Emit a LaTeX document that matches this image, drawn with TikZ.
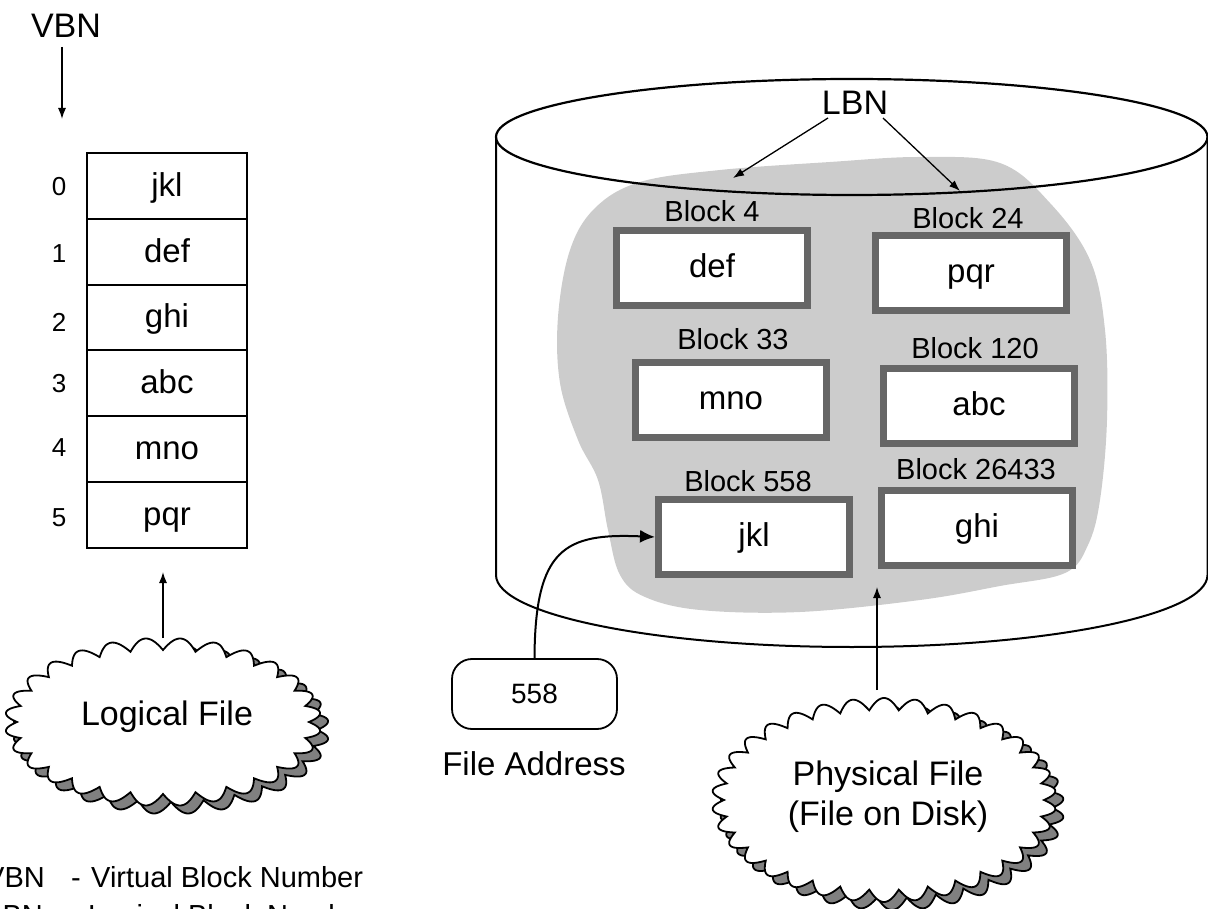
\documentclass[tikz,border=0pt]{standalone}
\usepackage{fontspec}
\setmainfont{Liberation Sans}
\usetikzlibrary{arrows.meta}
\definecolor{blobgray}{HTML}{CCCCCC}
\definecolor{blkgray}{HTML}{666666}
\definecolor{shadowgray}{HTML}{808080}
\newcommand\fsz[2]{\fontsize{#1}{#2}\selectfont}
\begin{document}
\begin{tikzpicture}[x=1pt,y=-1pt,
  tabcell/.style={draw, line width=2pt, minimum width=160pt, minimum height=65.8pt, inner sep=0pt,
                  text height=26pt, text depth=5pt, font=\fsz{33}{40}},
  idx/.style={inner sep=0pt, font=\fsz{26}{30}},
  blk/.style={draw=blkgray, line width=7pt, fill=white, minimum width=191pt, minimum height=75pt, inner sep=0pt,
              text height=25pt, text depth=6pt, font=\fsz{33}{40}},
  blklabel/.style={inner sep=0pt, font=\fsz{29}{34}},
  bigtext/.style={inner sep=0pt, font=\fsz{34}{40}},
  legend/.style={inner sep=0pt, font=\fsz{29}{34}},
  arr/.style={line width=1.3pt, -{Latex[length=11pt,width=8pt]}},
  cloudline/.style={draw=black, line width=1.8pt}]
\useasboundingbox (0,0) rectangle (1208,909);
\clip (0,0) rectangle (1208,909);

% ---------- left: logical file table ----------
\node[bigtext] (vbn) at (66,26) {VBN};
\coordinate (vbnS) at (62,47);
\coordinate (vbnT) at (62,119);
\draw[arr] (vbnS) -- (vbnT);

\node[tabcell] (r0) at (167,185.9) {jkl};
\node[tabcell] (r1) at (167,251.7) {def};
\node[tabcell] (r2) at (167,317.5) {ghi};
\node[tabcell] (r3) at (167,383.3) {abc};
\node[tabcell] (r4) at (167,449.1) {mno};
\node[tabcell] (r5) at (167,514.9) {pqr};
\node[idx] (i0) at (59,187) {0};
\node[idx] (i1) at (59,254) {1};
\node[idx] (i2) at (59,322) {2};
\node[idx] (i3) at (59,384) {3};
\node[idx] (i4) at (59,448) {4};
\node[idx] (i5) at (59,518) {5};

% logical file cloud
\filldraw[fill=shadowgray, cloudline, shift={(8,8)}]
  plot[domain=0:360, samples=561, variable=\t]
  ({163+(146+12*abs(sin(14*\t)))*cos(\t)}, {722+(72+12*abs(sin(14*\t)))*sin(\t)}) -- cycle;
\filldraw[fill=white, cloudline]
  plot[domain=0:360, samples=561, variable=\t]
  ({163+(146+12*abs(sin(14*\t)))*cos(\t)}, {722+(72+12*abs(sin(14*\t)))*sin(\t)}) -- cycle;
\node[bigtext] (lf) at (167,717) {Logical File};
\coordinate (lfTop) at (163,638);
\coordinate (lfTip) at (163,572);
\draw[arr] (lfTop) -- (lfTip);

% legend
\node[legend, anchor=base east] (v1) at (45,887) {VBN};
\node[legend, anchor=base] (d1) at (76,887) {-};
\node[legend, anchor=base west] (t1) at (91,887) {Virtual Block Number};
\node[legend, anchor=base east] (v2) at (43,925) {LBN};
\node[legend, anchor=base] (d2) at (70,925) {-};
\node[legend, anchor=base west] (t2) at (88,925) {Logical Block Number};

% ---------- right: disk ----------
\fill[blobgray] plot[smooth cycle, tension=0.6] coordinates {
  (595,208) (640,182) (720,170) (830,162) (920,157) (1000,163) (1050,203)
  (1090,260) (1105,330) (1107,420) (1100,500) (1088,545) (1065,573)
  (1000,586) (920,600) (800,612) (700,610) (645,597) (620,575) (608,530)
  (598,480) (578,440) (560,383) (558,317) (570,250)};

\draw[line width=2.2pt] (851.75,137) ellipse [x radius=355.75pt, y radius=58pt];
\draw[line width=2pt] (496,137) -- (496,575)
  arc[start angle=180, end angle=360, x radius=355.75pt, y radius=72pt] -- (1207.5,137);

\node[bigtext] (lbn) at (855,103) {LBN};
\coordinate (lbnA) at (828,118);
\coordinate (lbnAt) at (733,178);
\coordinate (lbnB) at (883,118);
\coordinate (lbnBt) at (960,191);
\draw[arr] (lbnA) -- (lbnAt);
\draw[arr] (lbnB) -- (lbnBt);

\node[blklabel] (l4) at (712,211) {Block 4};
\node[blk] (b4) at (712,268) {def};
\node[blklabel] (l24) at (968,218) {Block 24};
\node[blk] (b24) at (971,273) {pqr};
\node[blklabel] (l33) at (733,339) {Block 33};
\node[blk] (b33) at (731,400) {mno};
\node[blklabel] (l120) at (975,348) {Block 120};
\node[blk] (b120) at (979,406) {abc};
\node[blklabel] (l558) at (748,481) {Block 558};
\node[blk] (b558) at (754,537) {jkl};
\node[blklabel] (l26433) at (976,469) {Block 26433};
\node[blk] (b26433) at (977,528) {ghi};

% file address
\node[draw, line width=1.8pt, rounded corners=20pt, minimum width=165pt, minimum height=70pt,
      inner sep=0pt, font=\fsz{28}{32}] (addr) at (534.5,694) {558};
\node[bigtext, font=\fsz{33}{40}] (fa) at (534,764) {File Address};
\draw[line width=2pt, -{Latex[length=15pt,width=13pt]}]
  (addr.north) .. controls (535,548) and (565,533) .. (b558.west);

% physical file cloud
\filldraw[fill=shadowgray, cloudline, shift={(8,8)}]
  plot[domain=0:360, samples=681, variable=\t]
  ({884+(160+12*abs(sin(17*\t)))*cos(\t)}, {800+(90+12*abs(sin(17*\t)))*sin(\t)}) -- cycle;
\filldraw[fill=white, cloudline]
  plot[domain=0:360, samples=681, variable=\t]
  ({884+(160+12*abs(sin(17*\t)))*cos(\t)}, {800+(90+12*abs(sin(17*\t)))*sin(\t)}) -- cycle;
\node[bigtext, align=center] (pf) at (888,797) {Physical File\\(File on Disk)};
\coordinate (pfTop) at (877,690);
\coordinate (pfTip) at (877,587);
\draw[arr] (pfTop) -- (pfTip);
\end{tikzpicture}
\end{document}
